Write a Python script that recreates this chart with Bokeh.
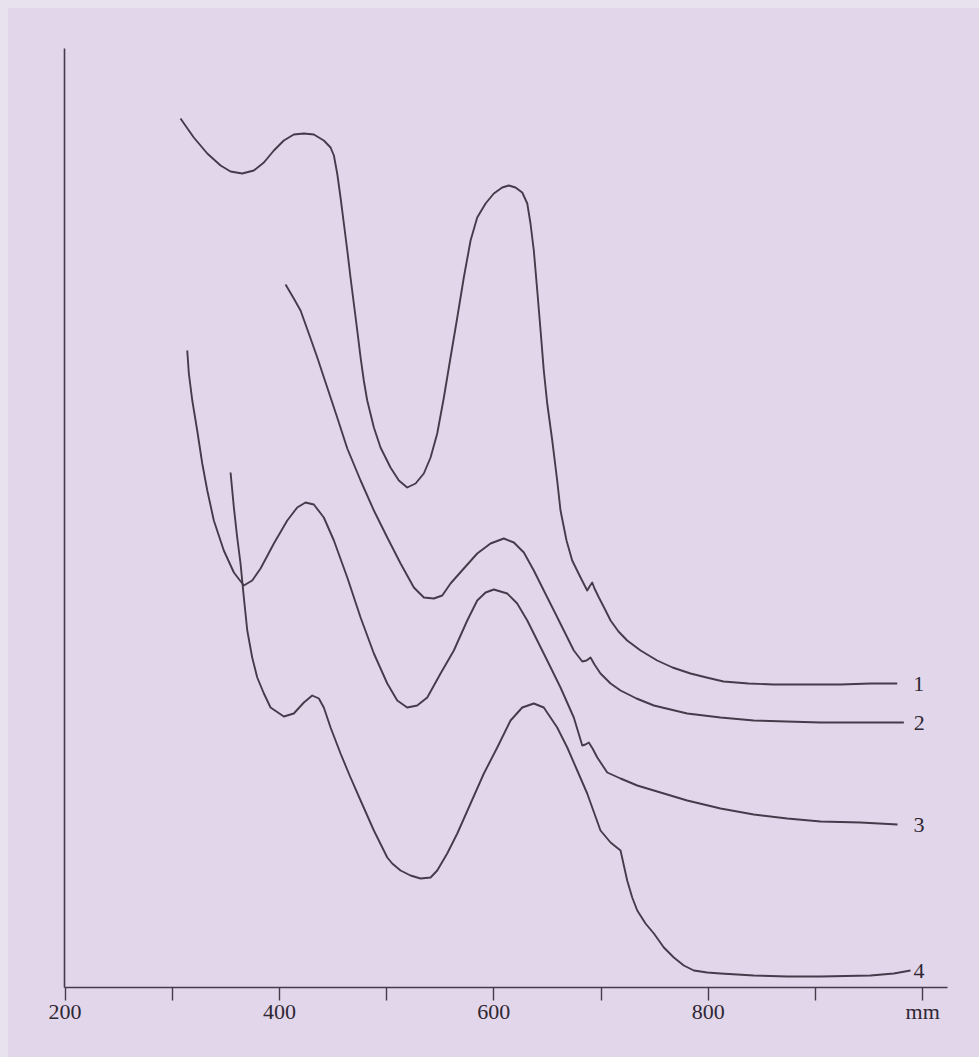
from bokeh.plotting import figure
from bokeh.models import Range1d, FixedTicker, ColumnDataSource
from bokeh.core.properties import value
from bokeh.embed import file_html
from bokeh.resources import INLINE

# ---- data: wavelength (nm) vs relative absorbance (arbitrary units) ----
wl_1 = [307.7, 320.1, 332.7, 345.1, 354.4, 365.3, 376.1, 385.5, 394.8, 404.1, 413.4, 422.8, 432.1,
        441.4, 447.7, 450.8, 453.9, 457.0, 460.1, 463.3, 466.3, 469.4, 472.6, 475.7, 478.7, 481.9,
        488.1, 494.3, 503.6, 511.4, 519.2, 527.0, 534.7, 541.0, 547.2, 553.4, 559.6, 565.9, 572.0,
        578.3, 584.5, 592.3, 600.0, 607.8, 614.0, 620.2, 626.5, 631.2, 634.2, 637.3, 640.5, 643.6,
        646.6, 649.8, 654.5, 659.1, 662.2, 667.8, 673.1, 680.9, 687.1, 689.3, 691.8, 693.9, 698.0,
        703.3, 708.9, 716.3, 724.4, 736.9, 752.4, 766.7, 783.5, 798.4, 814.3, 837.6, 860.9, 891.7,
        923.4, 951.4, 976.3]
abs_1 = [86.9, 85.0, 83.4, 82.2, 81.6, 81.4, 81.7, 82.5, 83.7, 84.7, 85.3, 85.4, 85.3,
         84.7, 84.0, 83.2, 81.4, 79.0, 76.4, 73.7, 71.0, 68.4, 65.7, 63.0, 60.7, 58.7,
         56.0, 54.0, 52.0, 50.7, 50.0, 50.4, 51.4, 53.0, 55.4, 59.0, 63.0, 67.0, 71.0,
         74.7, 77.0, 78.4, 79.4, 80.0, 80.2, 80.0, 79.5, 78.4, 76.4, 73.7, 69.7, 65.7,
         61.7, 58.4, 54.7, 50.7, 47.7, 44.7, 42.7, 41.0, 39.7, 40.1, 40.5, 39.9, 39.0,
         37.9, 36.7, 35.6, 34.7, 33.7, 32.7, 32.0, 31.4, 31.0, 30.6, 30.4, 30.3, 30.3,
         30.3, 30.4, 30.4]

wl_2 = [405.7, 413.4, 419.7, 427.4, 435.3, 444.6, 453.9, 463.3, 475.7, 488.1, 500.6, 513.0,
        525.4, 534.7, 544.0, 551.9, 559.6, 572.0, 584.5, 596.9, 609.3, 618.7, 628.0, 637.3,
        646.6, 656.0, 665.3, 674.6, 682.5, 686.5, 690.2, 693.9, 699.5, 708.9, 718.2, 733.1,
        749.3, 764.8, 780.4, 811.5, 842.5, 873.0, 904.8, 942.1, 982.5]
abs_2 = [70.3, 68.9, 67.7, 65.4, 63.0, 60.0, 57.0, 53.9, 50.7, 47.7, 45.0, 42.4,
         40.0, 39.0, 38.9, 39.2, 40.4, 41.9, 43.4, 44.4, 44.9, 44.5, 43.5, 41.7,
         39.7, 37.7, 35.7, 33.7, 32.6, 32.7, 33.0, 32.3, 31.4, 30.4, 29.7, 28.9,
         28.2, 27.8, 27.4, 27.0, 26.7, 26.6, 26.5, 26.5, 26.5]

wl_3 = [314.0, 315.5, 318.7, 323.3, 328.0, 332.7, 338.8, 348.1, 357.5, 366.8, 374.6, 382.4,
        394.8, 407.3, 416.6, 424.3, 432.1, 441.4, 450.8, 463.3, 475.7, 488.1, 500.6, 509.9,
        519.2, 528.5, 537.9, 550.3, 562.7, 575.2, 584.5, 592.3, 600.0, 612.5, 621.8, 631.2,
        640.5, 649.8, 662.2, 674.6, 682.5, 685.5, 688.6, 692.1, 696.5, 705.8, 718.2, 733.8,
        749.3, 780.4, 811.5, 842.5, 873.7, 904.8, 942.1, 976.6]
abs_3 = [63.7, 61.4, 58.7, 55.7, 52.4, 49.7, 46.7, 43.7, 41.5, 40.2, 40.7, 41.9,
         44.4, 46.7, 48.0, 48.5, 48.3, 47.0, 44.7, 41.0, 37.0, 33.4, 30.4, 28.7,
         28.0, 28.2, 29.0, 31.4, 33.7, 36.7, 38.7, 39.5, 39.8, 39.4, 38.4, 36.7,
         34.7, 32.7, 30.0, 27.0, 24.2, 24.3, 24.5, 23.9, 23.0, 21.5, 20.9, 20.2,
         19.7, 18.7, 17.9, 17.3, 16.9, 16.6, 16.5, 16.3]

wl_4 = [354.4, 357.5, 360.6, 363.7, 366.8, 370.0, 374.6, 379.3, 385.5, 391.7, 404.1, 413.4,
        422.8, 430.6, 436.8, 441.4, 447.7, 457.0, 466.3, 475.7, 488.1, 500.6, 505.2, 513.0,
        522.3, 531.6, 541.0, 547.2, 556.5, 565.9, 578.3, 590.7, 603.2, 615.6, 626.5, 637.3,
        646.6, 659.1, 668.5, 677.8, 687.1, 699.5, 708.9, 718.2, 724.4, 729.1, 733.8, 741.5,
        749.3, 758.6, 767.9, 777.2, 786.6, 799.1, 811.5, 842.5, 873.7, 904.8, 951.4, 973.1, 988.7]
abs_4 = [51.5, 48.0, 45.0, 42.4, 39.0, 35.7, 33.0, 31.0, 29.4, 28.0, 27.1, 27.4,
         28.5, 29.2, 28.9, 28.0, 26.0, 23.4, 21.0, 18.7, 15.7, 13.0, 12.4, 11.7,
         11.2, 10.9, 11.0, 11.7, 13.4, 15.4, 18.4, 21.4, 24.0, 26.7, 28.0, 28.4,
         28.0, 26.0, 24.0, 21.7, 19.4, 15.7, 14.5, 13.7, 10.7, 9.0, 7.7, 6.4,
         5.4, 4.0, 3.0, 2.2, 1.7, 1.5, 1.4, 1.2, 1.1, 1.1, 1.2, 1.4, 1.7]

curve_names = ["1", "2", "3", "4"]
tick_values = [200, 300, 400, 500, 600, 700, 800, 900, 1000]
tick_labels = ["200", "", "400", "", "600", "", "800", "", "mm"]

BG = "#e2d6ea"
EDGE = "#e8e1ee"
INK = "#453b4b"
SERIF = "Liberation Serif"

p = figure(width=971, height=1045, output_backend="svg", toolbar_location=None,
           x_range=Range1d(199.5, 1023.2), y_range=Range1d(0, 93.9),
           min_border_left=56, min_border_right=32, min_border_top=40, min_border_bottom=66)
p.background_fill_color = BG
p.border_fill_color = BG
p.outline_line_color = None
p.grid.visible = False

xa = p.xaxis[0]
xa.ticker = FixedTicker(ticks=tick_values, minor_ticks=[])
xa.major_label_overrides = {v: t for v, t in zip(tick_values, tick_labels)}
xa.axis_line_color = INK
xa.axis_line_width = 1.6
xa.major_tick_line_color = INK
xa.major_tick_line_width = 1.4
xa.major_tick_in = 0
xa.major_tick_out = 13
xa.minor_tick_out = 0
xa.minor_tick_in = 0
xa.major_label_standoff = -2
xa.major_label_text_font = SERIF
xa.major_label_text_font_size = "22px"
xa.major_label_text_color = "#2f2733"

ya = p.yaxis[0]
ya.ticker = FixedTicker(ticks=[], minor_ticks=[])
ya.axis_line_color = INK
ya.axis_line_width = 1.6
ya.major_tick_out = 0
ya.major_tick_in = 0
ya.minor_tick_out = 0
ya.minor_tick_in = 0
ya.major_label_text_font_size = "0px"

series = [(wl_1, abs_1), (wl_2, abs_2), (wl_3, abs_3), (wl_4, abs_4)]
for xs, ys in series:
    p.line(xs, ys, line_color=INK, line_width=1.9, line_join="round")

lab = ColumnDataSource(dict(
    x=[s[0][-1] for s in series],
    y=[s[1][-1] for s in series],
    t=curve_names,
    dx=[16, 10, 16, 3],
))
p.text(x="x", y="y", text="t", x_offset="dx", source=lab,
       text_font=value(SERIF), text_font_size="22px", text_color="#2f2733",
       text_align="left", text_baseline="middle")

html = file_html(p, INLINE)
style = ("<style>html{background:%s;} body{background:%s !important; "
         "border-top:8px solid %s; border-left:8px solid %s; overflow:hidden;}</style>"
         % (BG, BG, EDGE, EDGE))
html = html.replace("</head>", style + "</head>", 1)
open("out.html", "w").write(html)
